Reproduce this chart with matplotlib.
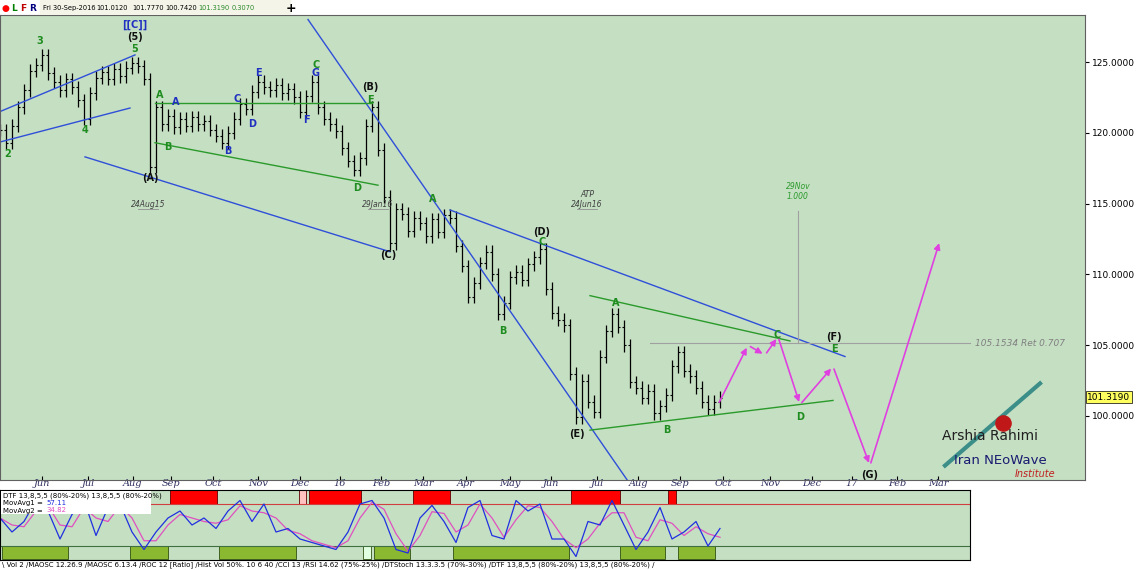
import numpy as np
import matplotlib.pyplot as plt

# price closes, one every 6 px (3 trading days), May 2015 .. 30 Sep 2016
bar_x = list(range(0, 721, 6))
closes = [120.2, 119.3, 120.5, 121.8, 123.0, 124.4, 124.8, 125.5, 124.2, 123.6, 123.0, 123.8, 123.2, 122.3, 121.0,
          122.8, 123.9, 124.3, 123.8, 124.5, 124.0, 124.6, 124.9, 124.7, 123.8, 117.6, 121.8, 120.6, 121.2, 120.4,
          121.0, 120.5, 121.1, 120.6, 120.8, 120.2, 119.8, 119.3, 120.0, 121.0, 122.0, 121.7, 122.9, 123.6, 123.2,
          123.0, 123.4, 122.8, 123.1, 122.5, 121.5, 122.6, 123.6, 121.8, 121.0, 120.6, 120.1, 118.9, 118.0, 117.4,
          118.2, 120.5, 121.8, 118.8, 115.5, 112.2, 114.6, 114.3, 113.1, 114.0, 113.6, 112.7, 113.9, 113.0, 114.2,
          114.0, 112.0, 110.6, 108.4, 109.4, 110.8, 111.6, 110.0, 107.2, 108.0, 109.8, 110.2, 109.6, 110.7, 111.2,
          111.8, 109.0, 107.3, 106.8, 106.4, 103.0, 99.9, 102.5, 101.0, 100.3, 104.2, 106.0, 107.2, 106.3, 105.0,
          102.4, 102.0, 101.3, 101.8, 100.2, 100.7, 101.5, 103.5, 104.5, 103.2, 102.8, 102.0, 101.0, 100.5, 101.0, 101.3]

month_pos = [42, 88, 133, 171, 213, 258, 300, 340, 381, 423, 466, 510, 551, 597, 638, 680, 723, 770, 812, 852, 897, 938]
month_lab = ['Jun', 'Jul', 'Aug', 'Sep', 'Oct', 'Nov', 'Dec', '16', 'Feb', 'Mar', 'Apr', 'May', 'Jun', 'Jul', 'Aug',
             'Sep', 'Oct', 'Nov', 'Dec', '17', 'Feb', 'Mar']
price_ticks = [100, 105, 110, 115, 120, 125]

# trend lines (x in px, price)
blue_lines = [((0, 121.5), (135, 125.5)), ((0, 119.35), (130, 121.75)),
              ((308, 128.0), (627, 95.5)), ((85, 118.3), (390, 111.6)),
              ((450, 114.55), (845, 104.2))]
green_lines = [((155, 122.1), (372, 122.1)), ((155, 119.3), (378, 116.3)),
               ((590, 108.5), (790, 105.3)), ((590, 99.0), (833, 101.1))]
proj_x = [718, 748, 765, 778, 800, 833, 870, 940]
proj_y = [100.8, 105.0, 104.3, 105.6, 100.8, 103.5, 96.5, 112.4]

# wave labels: (x, price, text, colour)
waves = [(8, 118.5, '2', 'g'), (40, 126.5, '3', 'g'), (85, 120.2, '4', 'g'), (135, 125.9, '5', 'g'),
         (135, 126.8, '(5)', 'k'), (135, 127.6, '[[C]]', 'b'), (150, 116.8, '(A)', 'k'),
         (160, 122.7, 'A', 'g'), (168, 119.0, 'B', 'g'), (176, 122.2, 'A', 'b'), (228, 118.7, 'B', 'b'),
         (237, 122.4, 'C', 'b'), (252, 120.6, 'D', 'b'), (258, 124.2, 'E', 'b'), (306, 120.9, 'F', 'b'),
         (316, 124.2, 'G', 'b'), (316, 124.8, 'C', 'g'), (357, 116.1, 'D', 'g'), (370, 123.2, '(B)', 'k'),
         (370, 122.3, 'E', 'g'), (388, 111.4, '(C)', 'k'), (433, 115.3, 'A', 'g'), (503, 106.0, 'B', 'g'),
         (542, 113.0, '(D)', 'k'), (542, 112.3, 'C', 'g'), (577, 98.7, '(E)', 'k'), (616, 108.0, 'A', 'g'),
         (667, 99.0, 'B', 'g'), (777, 105.7, 'C', 'g'), (834, 105.6, '(F)', 'k'), (834, 104.7, 'E', 'g'),
         (800, 99.9, 'D', 'g'), (870, 95.8, '(G)', 'k')]
wcol = {'g': '#1e8c1e', 'k': '#101010', 'b': '#2030c0'}

# DTF oscillator, one value every 12 px
osc_x = list(range(0, 721, 12))
osc = [60, 40, 55, 85, 70, 30, 65, 85, 35, 75, 80, 40, 15, 40, 60, 70, 50, 60, 45, 70, 85, 55, 80, 40, 45, 30, 25,
       20, 15, 40, 80, 85, 60, 15, 10, 60, 78, 55, 25, 75, 85, 35, 30, 85, 70, 80, 30, 30, 5, 55, 50, 85, 50, 15,
       40, 75, 30, 40, 55, 20, 45]
red_boxes = [(72, 128), (170, 217), (309, 361), (413, 450), (571, 620), (668, 676)]
pink_boxes = [(299, 306)]
green_boxes = [(2, 68), (130, 168), (219, 296), (374, 410), (453, 569), (620, 665), (678, 715)]
pale_boxes = [(363, 371)]

BG = '#c5dfc3'
W, H = 1140, 570
fig = plt.figure(figsize=(W / 100, H / 100), dpi=100, facecolor='white')
y0, y1 = 95.48, 128.32
ax = fig.add_axes([0, (H - 480) / H, 1085 / W, 465 / H], facecolor=BG)
ax.set_xlim(0, 1085)
ax.set_ylim(y0, y1)

c = np.array(closes)
prev = np.r_[c[0], c[:-1]]
hi = np.maximum(c, prev) + 0.45
lo = np.minimum(c, prev) - 0.45
ax.vlines(bar_x, lo, hi, color='black', lw=0.9)
ax.hlines(prev, np.array(bar_x) - 1.6, bar_x, color='black', lw=0.8)
ax.hlines(c, bar_x, np.array(bar_x) + 1.6, color='black', lw=0.8)

for (a, b) in blue_lines:
    ax.plot([a[0], b[0]], [a[1], b[1]], color='#2f4fd8', lw=1)
for (a, b) in green_lines:
    ax.plot([a[0], b[0]], [a[1], b[1]], color='#2a9a2a', lw=1)
ax.plot([650, 970], [105.15, 105.15], color='#a0a0a0', lw=0.8)
ax.text(975, 105.15, '105.1534 Ret 0.707', fontsize=6.5, color='#808080', style='italic', va='center')
ax.plot([798, 798], [105.15, 114.5], color='#a0a0a0', lw=0.8)
ax.text(798, 115.3, '29Nov\n1.000', fontsize=5.5, color='#2a9a2a', style='italic', ha='center')
for xx, lab in [(148, '24Aug15'), (378, '29Jan16'), (587, 'ATP\n24Jun16')]:
    ax.plot([xx - 10, xx + 10], [114.6, 114.6], color='#909090', lw=0.6)
    ax.text(xx, 114.75, lab, fontsize=5.5, color='#404040', style='italic', ha='center')

for i in range(len(proj_x) - 1):
    ax.annotate('', xy=(proj_x[i + 1], proj_y[i + 1]), xytext=(proj_x[i], proj_y[i]),
                arrowprops=dict(arrowstyle='-|>', color='#e040e0', lw=1.2, mutation_scale=9))

for x, y, t, col in waves:
    ax.text(x, y, t, fontsize=7, color=wcol[col], ha='center', va='center', fontweight='bold')

ax.set_xticks(month_pos)
ax.set_xticklabels(month_lab, fontsize=7, style='italic', family='DejaVu Serif', color='#303060')
ax.tick_params(axis='x', direction='in', length=3, pad=-1)
ax.yaxis.tick_right()
ax.set_yticks(price_ticks)
ax.set_yticklabels(['%.4f' % p for p in price_ticks], fontsize=6.5)
ax.tick_params(axis='y', direction='out', length=3, pad=2)
ax.text(1.002, (101.319 - y0) / (y1 - y0), '101.3190', transform=ax.transAxes, fontsize=6.5, va='center',
        bbox=dict(facecolor='#ffff60', edgecolor='black', lw=0.5, pad=1.2), clip_on=False)
for s in ax.spines.values():
    s.set_color('#606060')

# logo
ax.plot([945, 1040], [96.5, 102.3], color='#1a7a7a', lw=3, alpha=0.8)
ax.scatter([1003], [99.5], s=120, color='#c01818', zorder=5)
ax.text(990, 98.3, 'Arshia Rahimi', fontsize=10, color='#202020', ha='center')
ax.text(1000, 96.6, 'Iran NEoWave', fontsize=9.5, color='#1a1a70', ha='center')
ax.text(1035, 95.7, 'Institute', fontsize=7, color='#c02020', ha='center', style='italic')

# top info strip
top = fig.add_axes([0, 1 - 15 / H, 1085 / W, 15 / H], facecolor='white')
top.axis('off')
top.set_xlim(0, 1085)
top.set_ylim(0, 1)
top.add_patch(plt.Rectangle((40, 0), 250, 1, color='#f4f4e8'))
for xx, t, col in [(2, '●', 'red'), (11, 'L', '#008000'), (20, 'F', '#c00000'), (29, 'R', '#000080')]:
    top.text(xx, 0.45, t, fontsize=6.5, color=col, va='center', fontweight='bold')
for xx, t, col in [(43, 'Fri 30-Sep-2016', 'black'), (96, '101.0120', 'black'), (132, '101.7770', 'black'),
                   (165, '100.7420', 'black'), (198, '101.3190', '#2a8a2a'), (232, '0.3070', '#2a8a2a')]:
    top.text(xx, 0.45, t, fontsize=4.8, va='center', color=col)
top.text(286, 0.45, '+', fontsize=9, va='center', fontweight='bold')

# indicator panel
ind = fig.add_axes([0, (H - 560) / H, 970 / W, 70 / H], facecolor=BG)
ind.set_xlim(0, 970)
ind.set_ylim(0, 100)
for a, b in red_boxes:
    ind.add_patch(plt.Rectangle((a, 80), b - a, 20, facecolor='#ff0000', edgecolor='#600000', lw=0.6))
for a, b in pink_boxes:
    ind.add_patch(plt.Rectangle((a, 80), b - a, 20, facecolor='#ffc0c0', edgecolor='#600000', lw=0.6))
for a, b in green_boxes:
    ind.add_patch(plt.Rectangle((a, 2), b - a, 18, facecolor='#8ab830', edgecolor='#305010', lw=0.6))
for a, b in pale_boxes:
    ind.add_patch(plt.Rectangle((a, 2), b - a, 18, facecolor='#e0ffe0', edgecolor='#305010', lw=0.6))
ind.axhline(80, color='#d04040', lw=0.8)
ind.axhline(20, color='#407040', lw=0.8)
osc_a = np.array(osc, float)
ma = np.convolve(np.r_[osc_a[0], osc_a], [0.5, 0.5], 'valid')
ind.plot(osc_x, ma, color='#e050c0', lw=0.9)
ind.plot(osc_x, osc_a, color='#2030e0', lw=0.9)
ind.set_xticks([])
ind.set_yticks([])
ind.add_patch(plt.Rectangle((1, 66), 150, 33, facecolor='white', edgecolor='none', zorder=4))
ind.text(3, 97, 'DTF 13,8,5,5 (80%-20%) 13,8,5,5 (80%-20%)', fontsize=5, va='top', zorder=5)
ind.text(3, 86, 'MovAvg1 =', fontsize=5, va='top', zorder=5)
ind.text(46, 86, '57.11', fontsize=5, va='top', color='#2030e0', zorder=5)
ind.text(3, 75, 'MovAvg2 =', fontsize=5, va='top', zorder=5)
ind.text(46, 75, '34.82', fontsize=5, va='top', color='#e050c0', zorder=5)

fig.text(0.002, 2 / H, '\\ Vol 2 /MAOSC 12.26.9 /MAOSC 6.13.4 /ROC 12 [Ratio] /Hist Vol 50%. 10 6 40 /CCI 13 /RSI 14.62 (75%-25%) '
         '/DTStoch 13.3.3.5 (70%-30%) /DTF 13,8,5,5 (80%-20%) 13,8,5,5 (80%-20%) /', fontsize=5, va='bottom')

fig.savefig('out.png', dpi=100, facecolor='white')
